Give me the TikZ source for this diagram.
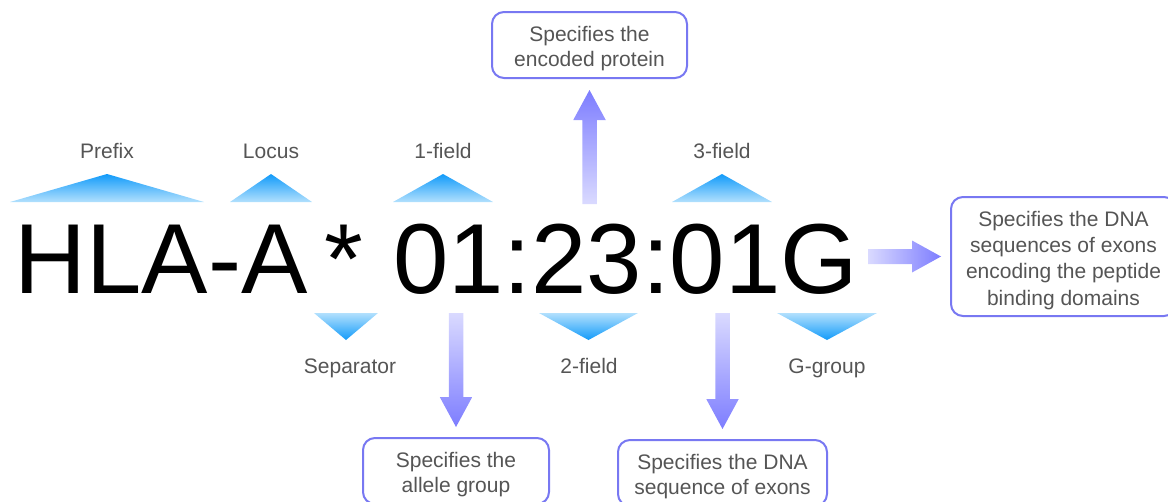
\documentclass[tikz,border=0pt]{standalone}
\usepackage{fontspec}
\setmainfont{Liberation Sans}
\usetikzlibrary{calc}
\definecolor{labelgray}{RGB}{85,85,85}
\definecolor{tridark}{RGB}{18,155,250}
\definecolor{trilight}{RGB}{178,224,253}
\definecolor{arrowhead}{RGB}{125,125,255}
\definecolor{arrowtail}{RGB}{218,218,255}
\definecolor{boxline}{RGB}{120,120,242}
\newcommand\uptri[2]{\shade[top color=tridark, bottom color=trilight] (#1,174) -- (#1-#2,202) -- (#1+#2,202) -- cycle;}
\newcommand\downtri[2]{\shade[top color=trilight, bottom color=tridark] (#1,340) -- (#1-#2,313) -- (#1+#2,313) -- cycle;}
% vertical block arrow: #1 tail, #2 tip, #3 signed head length, #4 shading
\newcommand\vblockarrow[4]{\shade[#4] ($(#1)+(-7.25,0)$) -- ($(#2)+(-7.25,#3)$) -- ($(#2)+(-16.25,#3)$) -- (#2) -- ($(#2)+(16.25,#3)$) -- ($(#2)+(7.25,#3)$) -- ($(#1)+(7.25,0)$) -- cycle;}
\newcommand\topstrut[1]{\rule{0pt}{#1}}
\begin{document}
\begin{tikzpicture}[x=1pt,y=-1pt,
  infobox/.style={draw=boxline, line width=2pt, rounded corners=12pt, fill=white,
    align=center, text=labelgray, font=\fontsize{21}{25}\selectfont, inner sep=0pt},
  fieldlabel/.style={text=labelgray, font=\fontsize{21}{25}\selectfont, anchor=base, inner sep=0pt}]
\useasboundingbox (0,0) rectangle (1168,501);

% code string
\node[anchor=base west, inner sep=0pt, font=\fontsize{99.5}{100}\selectfont] (code) at (14.3,293)
  {HLA-A\hspace{17pt}*\hspace{30pt}01:23:01G};

% field labels
\node[fieldlabel] (prefix) at (107,158) {Prefix};
\node[fieldlabel] (locus) at (271,158) {Locus};
\node[fieldlabel] (f1) at (443,158) {1-field};
\node[fieldlabel] (f3) at (722,158) {3-field};
\node[fieldlabel] (sep) at (350,373) {Separator};
\node[fieldlabel] (f2) at (589,373) {2-field};
\node[fieldlabel] (gg) at (827,373) {G-group};

% triangles
\uptri{107}{97}
\uptri{271}{41}
\uptri{443}{50}
\uptri{722}{50}
\downtri{346}{32}
\downtri{588.5}{49.5}
\downtri{827}{50}

% boxes
\node[infobox, minimum width=195pt, minimum height=66pt] (protein) at (589.5,45)
  {\topstrut{21.5pt}Specifies the\\encoded protein};
\node[infobox, minimum width=186pt, minimum height=66pt] (allele) at (456,471)
  {\topstrut{21.5pt}Specifies the\\allele group};
\node[infobox, minimum width=209pt, minimum height=66pt] (exons) at (722.5,473)
  {\topstrut{21.5pt}Specifies the DNA\\sequence of exons};
\node[infobox, minimum width=225pt, minimum height=119pt, font=\fontsize{21}{26.3}\selectfont] (domains) at (1063.5,256.5)
  {\topstrut{22.5pt}Specifies the DNA\\sequences of exons\\encoding the peptide\\binding domains};

% arrows
\coordinate (upY) at (0,204);
\coordinate (lowY) at (0,313);
\coordinate (rightX) at (868,0);
\coordinate (protTail) at (protein.south |- upY);
\coordinate (protTip) at ($(protein.south)+(0,11)$);
\coordinate (alleleTail) at (allele.north |- lowY);
\coordinate (alleleTip) at ($(allele.north)+(0,-10)$);
\coordinate (exonsTail) at (exons.north |- lowY);
\coordinate (exonsTip) at ($(exons.north)+(0,-10)$);
\coordinate (domTail) at (domains.west -| rightX);
\coordinate (domTip) at ($(domains.west)+(-9,0)$);

\vblockarrow{protTail}{protTip}{30}{top color=arrowhead, bottom color=arrowtail}
\vblockarrow{alleleTail}{alleleTip}{-30}{top color=arrowtail, bottom color=arrowhead}
\vblockarrow{exonsTail}{exonsTip}{-30}{top color=arrowtail, bottom color=arrowhead}
\shade[left color=arrowtail, right color=arrowhead]
  ($(domTail)+(0,-7.5)$) -- ($(domTip)+(-29,-7.5)$) -- ($(domTip)+(-29,-16)$) -- (domTip)
  -- ($(domTip)+(-29,16)$) -- ($(domTip)+(-29,7.5)$) -- ($(domTail)+(0,7.5)$) -- cycle;
\end{tikzpicture}
\end{document}
